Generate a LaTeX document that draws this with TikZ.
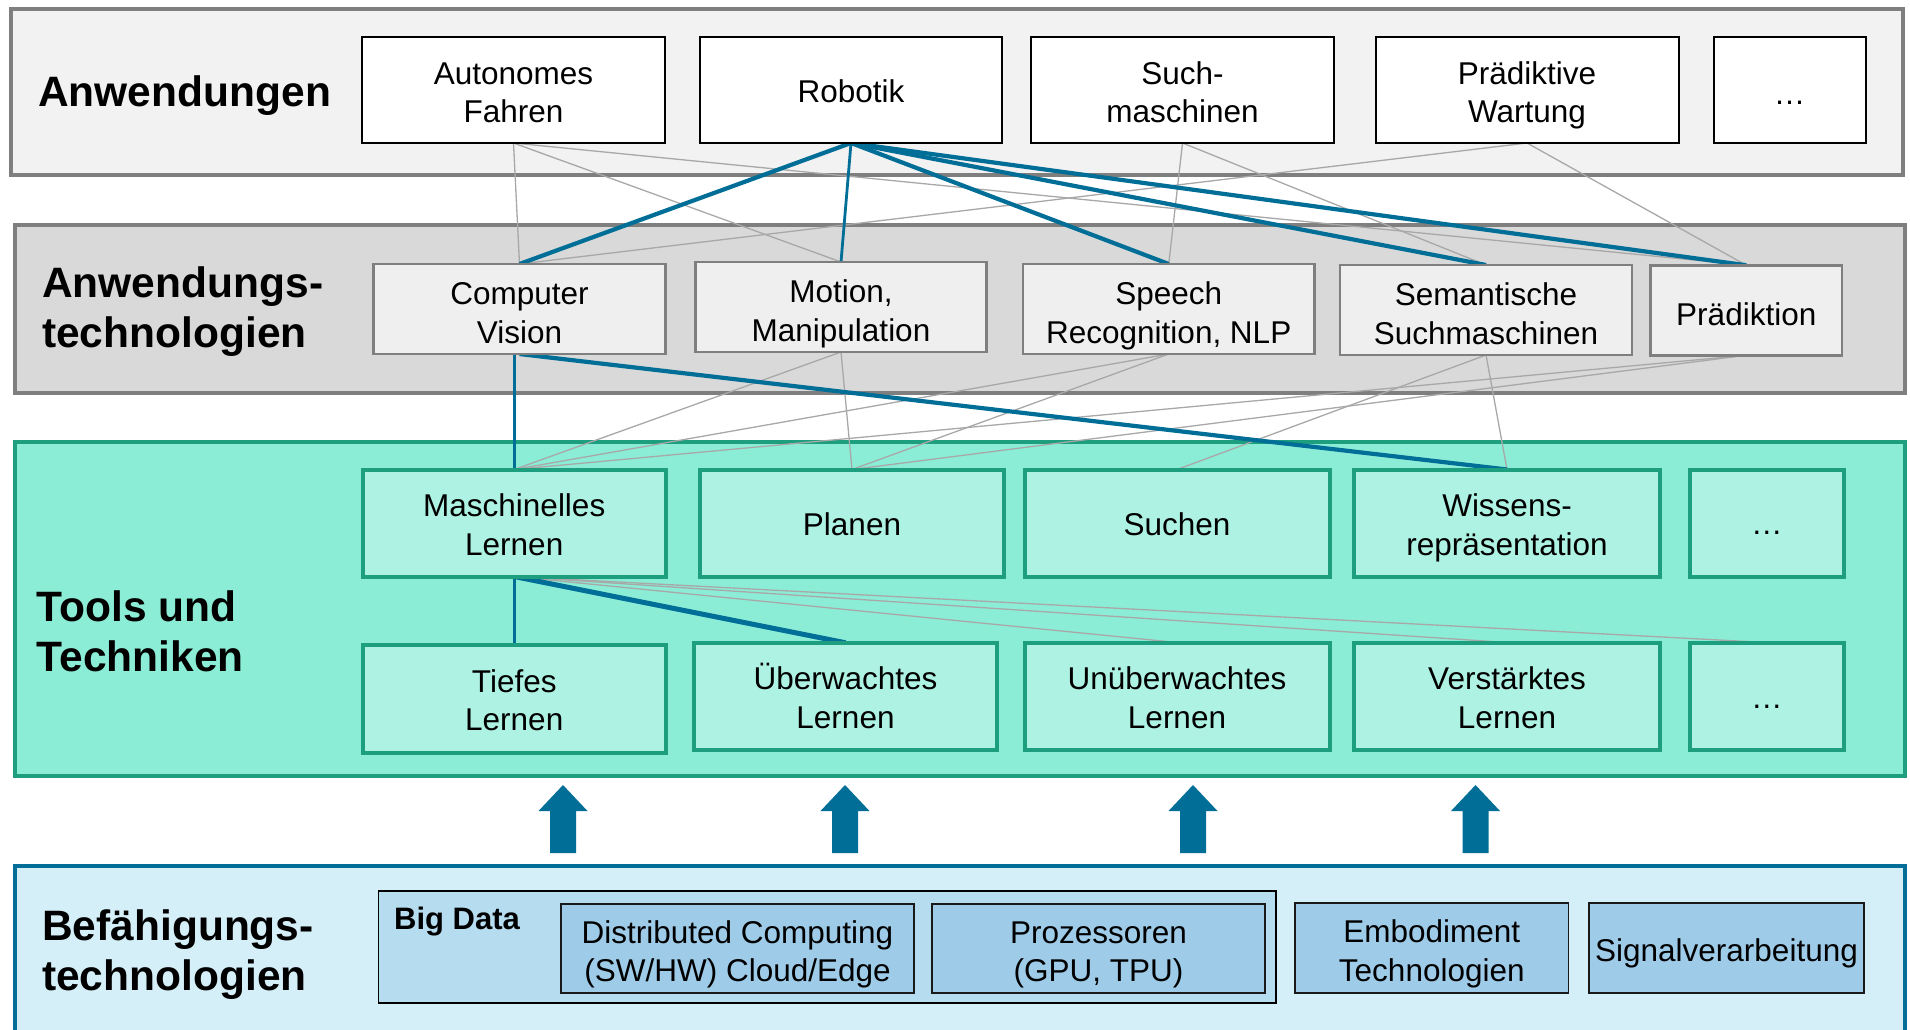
\documentclass[tikz,border=0pt]{standalone}
\usepackage{fontspec}
\setmainfont{Liberation Sans}

\definecolor{bandAfill}{HTML}{F2F2F2}
\definecolor{bandAline}{HTML}{7F7F7F}
\definecolor{bandBfill}{HTML}{D9D9D9}
\definecolor{techfill}{HTML}{EFEFEF}
\definecolor{toolband}{HTML}{8CEDD6}
\definecolor{toolfill}{HTML}{AEF2E3}
\definecolor{toolline}{HTML}{1D9E7E}
\definecolor{enaband}{HTML}{D4EFF8}
\definecolor{bigdatafill}{HTML}{B6DCEF}
\definecolor{enafill}{HTML}{9ECBE8}
\definecolor{linkblue}{HTML}{006E96}
\definecolor{linkgray}{HTML}{A8A8A8}

\newcommand\diagboxfont{\fontsize{31.5}{38.5}\selectfont}
\newcommand\diagbandfont{\fontsize{42.5}{50}\selectfont\bfseries}

% fixed line boxes, so that every label sits at the same height in its box
\newcommand\padtext[3]{\rule{0pt}{#1}#3\rule[-#2]{0pt}{#2}}
\newcommand\apptext[1]{\padtext{35.5pt}{9pt}{#1}}
\newcommand\techtext[1]{\padtext{38.5pt}{9pt}{#1}}
\newcommand\tooltext[1]{\padtext{34.6pt}{9pt}{#1}}
\newcommand\enatext[1]{\padtext{36.5pt}{9pt}{#1}}

\pgfdeclarelayer{bands}
\pgfdeclarelayer{links}
\pgfsetlayers{bands,links,main}

\tikzset{
  box/.style={inner sep=0pt, outer sep=0pt, align=center, font=\diagboxfont},
  appbox/.style={box, fill=white, draw=black, line width=2pt, minimum height=106pt},
  techbox/.style={box, fill=techfill, draw=bandAline, line width=2.5pt, minimum height=90pt},
  toolbox/.style={box, fill=toolfill, draw=toolline, line width=4pt, minimum height=107pt},
  enabox/.style={box, fill=enafill, draw=black!90, line width=1.5pt, minimum height=89pt},
  bandlabel/.style={anchor=west, align=left, inner sep=0pt, font=\diagbandfont},
  graylink/.style={draw=linkgray, line width=1.3pt},
  bluelink/.style={draw=linkblue, line width=4.2pt},
  bluethin/.style={draw=linkblue, line width=2.8pt},
  uparrow/.style={fill=linkblue}
}

\begin{document}
\begin{tikzpicture}[x=1pt,y=-1pt]
\useasboundingbox (0,0) rectangle (1910,1029);
\clip (0,0) rectangle (1910,1029);

% layer bands
\begin{pgfonlayer}{bands}
\draw[fill=bandAfill, draw=bandAline, line width=3.5pt] (11,9) rectangle (1903,175);
\draw[fill=bandBfill, draw=bandAline, line width=3.5pt] (15,225) rectangle (1905,393);
\draw[fill=toolband, draw=toolline, line width=3.5pt] (15,442) rectangle (1905,776);
\draw[fill=enaband, draw=linkblue, line width=4pt] (15,866) rectangle (1905,1045);
\end{pgfonlayer}

% layer titles
\node[bandlabel] (tA) at (38,96) {Anwendungen};
\node[bandlabel] (tB) at (42,311.5) {Anwendungs-\\technologien};
\node[bandlabel] (tC) at (36.5,631) {Tools und\\Techniken};
\node[bandlabel] (tD) at (42,954.5) {Befähigungs-\\technologien};

% applications
\node[appbox, minimum width=303pt] (aut) at (513.5,90) {\apptext{Autonomes\\Fahren}};
\node[appbox, minimum width=302pt] (rob) at (851,90) {\padtext{33pt}{9pt}{Robotik}};
\node[appbox, minimum width=303pt] (such) at (1182.5,90) {\apptext{Such-\\maschinen}};
\node[appbox, minimum width=303pt] (pw) at (1527,90) {\apptext{Prädiktive\\Wartung}};
\node[appbox, minimum width=152pt] (appmore) at (1789.5,90) {\rule{0pt}{28pt}…};

% application technologies
\node[techbox, minimum width=292pt] (cv) at (519.5,309) {\techtext{Computer\\Vision}};
\node[techbox, minimum width=291pt] (mot) at (841,307) {\techtext{Motion,\\Manipulation}};
\node[techbox, minimum width=291.5pt] (spe) at (1168.75,309) {\techtext{Speech\\Recognition, NLP}};
\node[techbox, minimum width=292pt] (sem) at (1486,310) {\techtext{Semantische\\Suchmaschinen}};
\node[techbox, minimum width=191.5pt] (pra) at (1746.25,310.25) {\techtext{Prädiktion}};

% tools and techniques, first row
\node[toolbox, minimum width=303.5pt] (ml) at (514.25,523) {\tooltext{Maschinelles\\Lernen}};
\node[toolbox, minimum width=304pt] (plan) at (852,523) {\tooltext{Planen}};
\node[toolbox, minimum width=305pt] (suchen) at (1177,523) {\tooltext{Suchen}};
\node[toolbox, minimum width=306pt] (wiss) at (1507,523) {\tooltext{Wissens-\\repräsentation}};
\node[toolbox, minimum width=154.5pt] (toolmore) at (1766.75,523) {\rule{0pt}{23pt}…};

% tools and techniques, second row
\node[toolbox, minimum width=303.5pt, minimum height=108pt] (tief) at (514.25,698.5) {\tooltext{Tiefes\\Lernen}};
\node[toolbox, minimum width=303pt] (ueb) at (845.5,696.25) {\tooltext{Überwachtes\\Lernen}};
\node[toolbox, minimum width=305pt] (unueb) at (1177,696) {\tooltext{Unüberwachtes\\Lernen}};
\node[toolbox, minimum width=306pt] (verst) at (1507,696) {\tooltext{Verstärktes\\Lernen}};
\node[toolbox, minimum width=154.5pt] (lernmore) at (1766.75,696) {\rule{0pt}{25pt}…};

% enabling technologies
\node[box, fill=bigdatafill, draw=black, line width=1.5pt, minimum width=897.5pt, minimum height=112pt] (big) at (827.25,947) {};
\node[anchor=base west, inner sep=0pt, font=\fontsize{31}{36}\selectfont\bfseries] (bigl) at (394,929) {Big Data};
\node[enabox, minimum width=353pt] (dist) at (737.5,948.5) {\enatext{Distributed Computing\\(SW/HW) Cloud/Edge}};
\node[enabox, minimum width=333pt] (proz) at (1098.5,948.5) {\enatext{Prozessoren\\(GPU, TPU)}};
\node[enabox, minimum width=273.5pt, minimum height=90pt] (emb) at (1431.75,948) {\enatext{Embodiment\\Technologien}};
\node[enabox, minimum width=275pt, minimum height=90pt] (sig) at (1726.5,948) {\enatext{Signalverarbeitung}};

\begin{pgfonlayer}{links}
% links: applications -> application technologies
\draw[graylink] (aut.south) -- (cv.north);
\draw[graylink] (aut.south) -- (mot.north);
\draw[graylink] (aut.south) -- (pra.north);
\draw[graylink] (such.south) -- (spe.north);
\draw[graylink] (such.south) -- (sem.north);
\draw[graylink] (pw.south) -- (cv.north);
\draw[graylink] (pw.south) -- (pra.north);
\draw[bluelink] (rob.south) -- (cv.north);
\draw[bluethin] (rob.south) -- (mot.north);
\draw[bluelink] (rob.south) -- (spe.north);
\draw[bluelink] (rob.south) -- (sem.north);
\draw[bluelink] (rob.south) -- (pra.north);

% links: application technologies -> tools
\draw[graylink] (mot.south) -- (ml.north);
\draw[graylink] (mot.south) -- (plan.north);
\draw[graylink] (spe.south) -- (ml.north);
\draw[graylink] (spe.south) -- (plan.north);
\draw[graylink] (sem.south) -- (suchen.north);
\draw[graylink] (sem.south) -- (wiss.north);
\draw[graylink] (pra.south) -- (ml.north);
\draw[graylink] (pra.south) -- (plan.north);
\draw[bluethin] (ml.north) -- (ml.north |- cv.south);
\draw[bluelink] (cv.south) -- (wiss.north);

% links: machine learning -> learning methods
\draw[graylink] (ml.south) -- (unueb.north);
\draw[graylink] (ml.south) -- (verst.north);
\draw[graylink] (ml.south) -- (lernmore.north);
\draw[bluethin] (ml.south) -- (tief.north);
\draw[bluelink, line width=5pt] (ml.south) -- (ueb.north);
\end{pgfonlayer}

% upward block arrows
\foreach \cx in {563,845,1193,1475.5} {
  \fill[uparrow] (\cx-13,853) -- (\cx-13,811) -- (\cx-24.5,811) -- (\cx,785)
    -- (\cx+24.5,811) -- (\cx+13,811) -- (\cx+13,853) -- cycle;
}
\end{tikzpicture}
\end{document}
